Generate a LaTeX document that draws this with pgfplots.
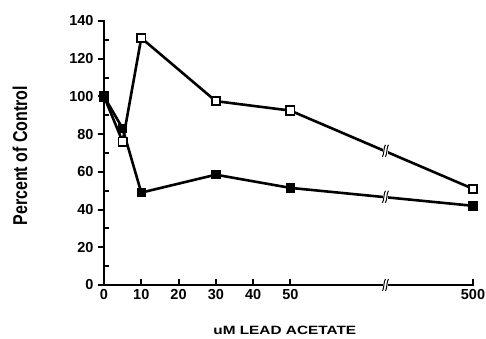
\documentclass[border=0pt]{standalone}
\usepackage{fontspec}
\setmainfont{Liberation Sans}
\newfontfamily\xlabfont[FakeStretch=1.28]{Liberation Sans}
\newfontfamily\ylabfont[FakeStretch=0.8]{Liberation Sans}
\usepackage{pgfplots}
\pgfplotsset{compat=1.18}
\newcommand\brk[1]{%
  \fill[white] ([xshift=-2.5pt,yshift=-6pt]axis cs:75.5,#1) rectangle ([xshift=2.5pt,yshift=6pt]axis cs:75.5,#1);
  \draw[line width=1pt] ([xshift=-3pt,yshift=-6pt]axis cs:75.5,#1) .. controls +(2pt,3pt) and +(-2pt,-3pt) .. ([xshift=0pt,yshift=6pt]axis cs:75.5,#1);
  \draw[line width=1pt] ([xshift=0pt,yshift=-6pt]axis cs:75.5,#1) .. controls +(2pt,3pt) and +(-2pt,-3pt) .. ([xshift=3pt,yshift=6pt]axis cs:75.5,#1);
}
\begin{document}
\begin{tikzpicture}
\useasboundingbox (-104pt,-53pt) rectangle (382pt,285pt);
\begin{axis}[
  at={(0,0)}, anchor=south west,
  scale only axis, width=369pt, height=264pt,
  xmin=0, xmax=99, ymin=0, ymax=140,
  axis x line*=bottom, axis y line*=left,
  separate axis lines,
  every outer x axis line/.append style={line width=2.6pt, line cap=rect},
  every outer y axis line/.append style={line width=2.6pt, line cap=rect},
  xtick={0,10,20,30,40,50,99},
  xticklabels={0,10,20,30,40,50,500},
  ytick={0,20,...,140},
  minor ytick={10,30,...,130},
  xtick align=inside, ytick align=outside,
  major tick length=6pt, minor tick length=5pt,
  tick style={line width=2pt, black},
  minor y tick style={xshift=5pt},
  /pgf/number format/assume math mode=true,
  tick label style={font=\fontsize{14.5}{16}\selectfont\bfseries},
  xticklabel style={yshift=-1pt},
  yticklabel style={xshift=-1pt},
  xlabel={uM LEAD ACETATE},
  ylabel={Percent of Control},
  xlabel style={font=\xlabfont\fontsize{12}{14}\selectfont\bfseries, at={([yshift=-45pt]axis description cs:0.49,0)}, anchor=center},
  ylabel style={font=\ylabfont\fontsize{20}{22}\selectfont\bfseries, at={([xshift=-84pt]axis description cs:0,0.49)}, anchor=center},
  clip=false,
]
\addplot[black, line width=2.6pt, mark=square*, mark size=4.2pt, mark options={fill=white, line width=1.8pt}]
  coordinates {(0,100) (5,76) (10,131) (30,97.5) (50,92.5) (99,51)};
\addplot[black, line width=2.6pt, mark=square*, mark size=4.2pt, mark options={fill=black, line width=1pt}]
  coordinates {(0,100) (5,83) (10,49) (30,58.5) (50,51.5) (99,42)};
\brk{0}
\brk{71.2}
\brk{46.8}
\end{axis}
\end{tikzpicture}
\end{document}
